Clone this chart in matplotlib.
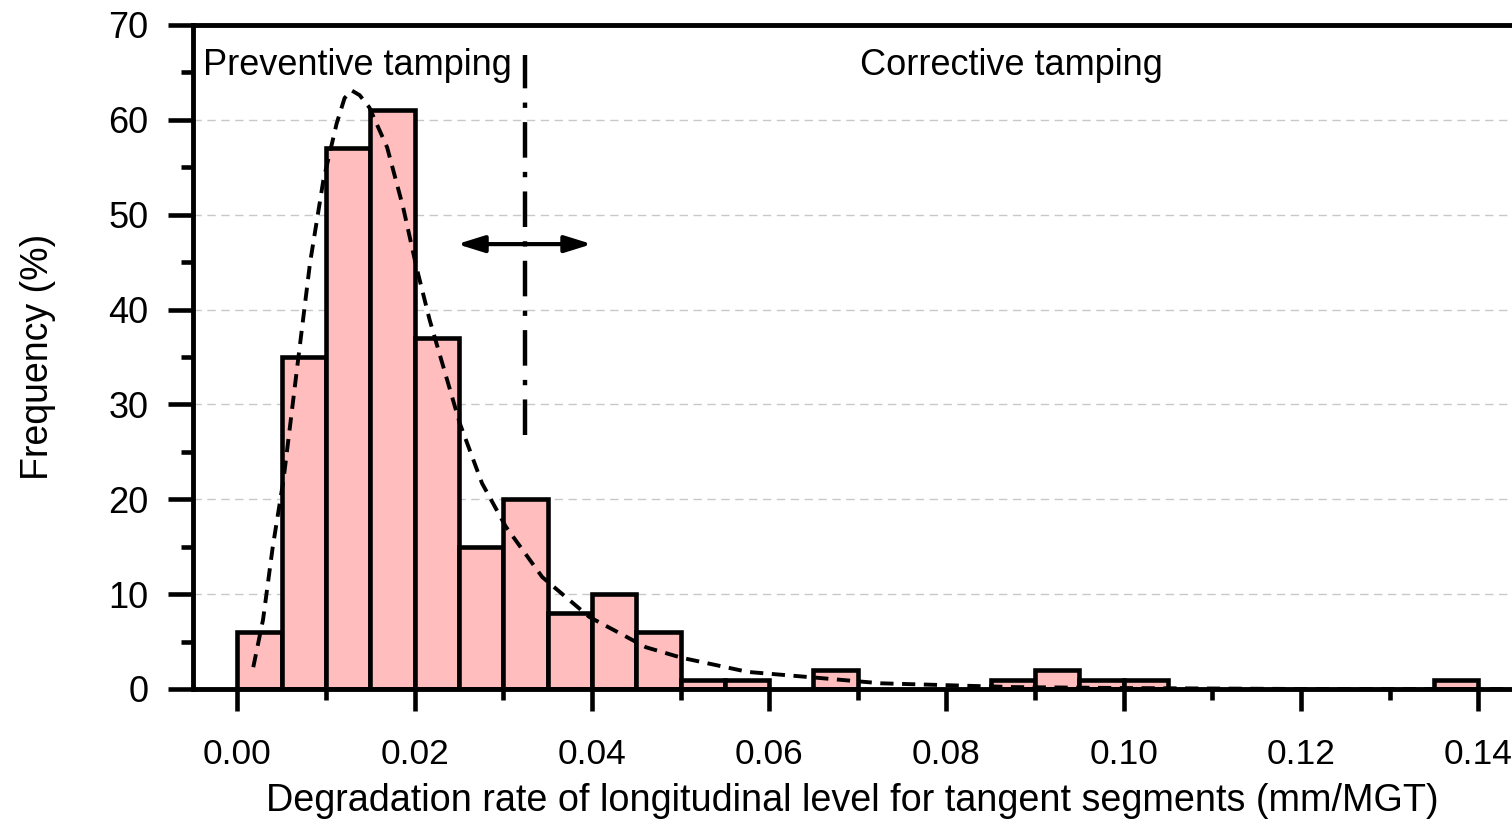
import numpy as np
import matplotlib
matplotlib.use('Agg')
import matplotlib.pyplot as plt
from matplotlib.ticker import MultipleLocator, FormatStrFormatter

# ============================ Dados ============================

bin_left = [0.000, 0.005, 0.010, 0.015, 0.020, 0.025, 0.030, 0.035, 0.040, 0.045,
            0.050, 0.055, 0.065, 0.085, 0.090, 0.095, 0.100, 0.135]
freq = [6, 35, 57, 61, 37, 15, 20, 8, 10, 6,
        1, 1, 2, 1, 2, 1, 1, 1]
bin_width = 0.005

# curva ajustada (tracejada)
fit_x = [0.0018, 0.0029, 0.0040, 0.0052, 0.0067, 0.0082, 0.0097, 0.0112, 0.0121,
         0.0129, 0.0138, 0.0149, 0.0169, 0.0187, 0.0202, 0.0217, 0.0251, 0.0276,
         0.0303, 0.0344, 0.0397, 0.0461, 0.0501, 0.0576, 0.0652, 0.0726, 0.0801,
         0.0876, 0.1000, 0.1200, 0.1438]
fit_y = [2.3, 7.3, 15.0, 22.0, 33.5, 44.9, 53.6, 59.6, 62.3,
         63.1, 62.6, 61.3, 57.1, 50.8, 44.5, 38.9, 28.0, 21.7,
         17.1, 11.8, 7.6, 4.4, 3.3, 1.8, 1.2, 0.6, 0.4,
         0.2, 0.1, 0.0, 0.0]

threshold = 0.0325          # limite entre socaria preventiva e corretiva
threshold_span = [26.8, 66.8]
arrow_x = [0.0248, 0.0400]
arrow_y = 46.9

label_prev = 'Preventive tamping'
label_corr = 'Corrective tamping'

# ============================ Figura ============================

plt.rcParams['font.family'] = ['Liberation Sans', 'DejaVu Sans']
fs = 26

fig = plt.figure(figsize=(15.12, 8.26), dpi=100)
ax = fig.add_axes([193 / 1512, 137 / 826, 1 - 193 / 1512, 664 / 826])

ax.yaxis.grid(True, color='#c8c8c8', linestyle=(0, (6, 4)), linewidth=1.0)
ax.set_axisbelow(True)

ax.bar(bin_left, freq, width=bin_width, align='edge', color='#ffbdbd',
       edgecolor='black', linewidth=3.3, zorder=2)

ax.plot(fit_x, fit_y, color='black', linestyle=(0, (3.4, 2.2)), linewidth=2.8, zorder=3)

ax.plot([threshold, threshold], threshold_span, color='black', linewidth=3.2,
        linestyle=(0, (8.0, 3.2, 1.2, 3.2)), zorder=3)

ax.annotate('', xy=(arrow_x[0], arrow_y), xytext=(arrow_x[1], arrow_y),
            arrowprops=dict(arrowstyle='<|-|>,head_length=0.9,head_width=0.28',
                            mutation_scale=18, color='black', lw=3,
                            shrinkA=0, shrinkB=0), zorder=4)

ax.text(0.0135, 65.7, label_prev, fontsize=fs, ha='center', va='center', zorder=5)
ax.text(0.0873, 65.7, label_corr, fontsize=fs, ha='center', va='center', zorder=5)

# ============================ Eixos ============================

ax.set_xlim(-0.005, 0.1438)
ax.set_ylim(0, 70)

ax.xaxis.set_major_locator(MultipleLocator(0.02))
ax.xaxis.set_minor_locator(MultipleLocator(0.01))
ax.xaxis.set_major_formatter(FormatStrFormatter('%.2f'))
ax.yaxis.set_major_locator(MultipleLocator(10))
ax.yaxis.set_minor_locator(MultipleLocator(5))

ax.tick_params(axis='x', which='major', length=16, width=3.3, direction='out', labelsize=25.5, pad=19)
ax.tick_params(axis='x', which='minor', length=8, width=3.3, direction='out')
ax.tick_params(axis='y', which='major', length=18, width=3.3, direction='out', labelsize=26, pad=14)
ax.tick_params(axis='y', which='minor', length=9, width=3.3, direction='out')

for s in ['left', 'bottom', 'top']:
    ax.spines[s].set_linewidth(3.5)
ax.spines['right'].set_visible(False)

ax.set_xlabel('Degradation rate of longitudinal level for tangent segments (mm/MGT)',
              fontsize=27.2, labelpad=9)
ax.set_ylabel('Frequency (%)', fontsize=27, labelpad=38)

fig.savefig('out.png', dpi=100)
